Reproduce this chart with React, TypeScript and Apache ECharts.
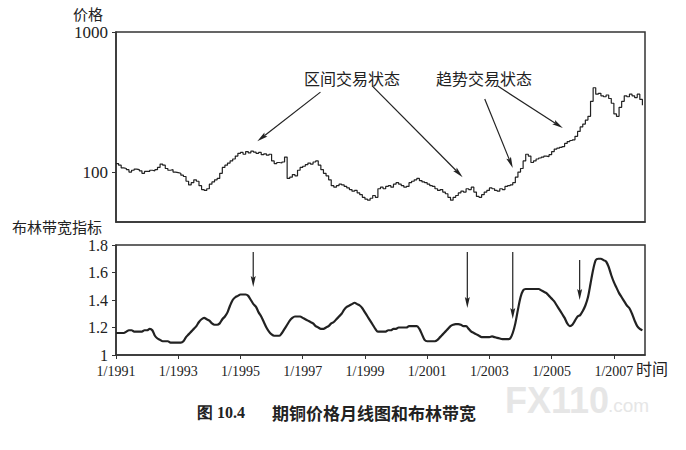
import { useEffect, useRef } from "react";
import * as echarts from "echarts";

const startYear = 1991;

// Monthly copper futures price (cents/lb), Jan 1991 .. Dec 2007
const copperPrice = [
  115, 112, 107, 106, 104, 100, 103, 105, 104, 102, 98, 101, // 1991
  101, 103, 102, 104, 108, 114, 112, 106, 103, 104, 100, 99, // 1992
  98, 95, 93, 86, 81, 84, 88, 86, 80, 75, 74, 76, // 1993
  82, 85, 88, 90, 98, 108, 112, 116, 120, 124, 130, 136, // 1994
  138, 134, 140, 137, 141, 139, 136, 138, 133, 135, 132, 134, // 1995
  120, 115, 117, 116, 118, 128, 90, 92, 96, 94, 103, 108, // 1996
  110, 113, 116, 114, 118, 120, 112, 104, 98, 94, 88, 80, // 1997
  78, 80, 82, 81, 79, 77, 75, 73, 74, 71, 69, 66, // 1998
  64, 63, 65, 68, 66, 76, 78, 76, 79, 80, 78, 82, // 1999
  84, 82, 80, 78, 79, 84, 86, 88, 90, 87, 85, 84, // 2000
  82, 80, 79, 76, 74, 75, 72, 70, 66, 63, 66, 68, // 2001
  71, 73, 72, 76, 75, 78, 72, 67, 66, 69, 72, 74, // 2002
  77, 76, 74, 73, 76, 75, 79, 80, 81, 84, 92, 100, // 2003
  106, 120, 134, 130, 117, 120, 124, 126, 128, 130, 129, 133, // 2004
  140, 146, 148, 150, 152, 160, 165, 168, 170, 180, 195, 210, // 2005
  220, 235, 250, 320, 400, 360, 365, 350, 345, 355, 335, 310, // 2006
  260, 250, 290, 320, 350, 345, 360, 350, 340, 360, 330, 300, // 2007
];

// Monthly Bollinger band width indicator, Jan 1991 .. Dec 2007
const bandWidth = [
  1.16, 1.16, 1.16, 1.16, 1.17, 1.18, 1.18, 1.17, 1.17, 1.17, 1.17, 1.18, // 1991
  1.18, 1.19, 1.18, 1.14, 1.12, 1.11, 1.1, 1.1, 1.1, 1.09, 1.09, 1.09, // 1992
  1.09, 1.09, 1.1, 1.13, 1.15, 1.17, 1.19, 1.21, 1.24, 1.26, 1.27, 1.26, // 1993
  1.25, 1.23, 1.22, 1.22, 1.23, 1.26, 1.28, 1.31, 1.36, 1.4, 1.42, 1.43, // 1994
  1.44, 1.44, 1.44, 1.43, 1.4, 1.37, 1.35, 1.31, 1.28, 1.24, 1.2, 1.17, // 1995
  1.15, 1.14, 1.14, 1.14, 1.16, 1.19, 1.22, 1.25, 1.27, 1.28, 1.28, 1.28, // 1996
  1.27, 1.26, 1.25, 1.24, 1.23, 1.21, 1.2, 1.19, 1.19, 1.2, 1.21, 1.23, // 1997
  1.24, 1.26, 1.28, 1.3, 1.33, 1.35, 1.36, 1.37, 1.38, 1.37, 1.36, 1.34, // 1998
  1.31, 1.28, 1.25, 1.22, 1.19, 1.17, 1.17, 1.17, 1.17, 1.18, 1.18, 1.19, // 1999
  1.19, 1.2, 1.2, 1.2, 1.2, 1.21, 1.21, 1.21, 1.21, 1.19, 1.15, 1.11, // 2000
  1.1, 1.1, 1.1, 1.1, 1.11, 1.13, 1.15, 1.17, 1.19, 1.21, 1.22, 1.225, // 2001
  1.225, 1.22, 1.21, 1.21, 1.19, 1.17, 1.16, 1.15, 1.14, 1.13, 1.13, 1.13, // 2002
  1.13, 1.135, 1.13, 1.125, 1.12, 1.115, 1.115, 1.115, 1.12, 1.16, 1.23, 1.33, // 2003
  1.42, 1.47, 1.48, 1.48, 1.48, 1.48, 1.48, 1.48, 1.47, 1.46, 1.45, 1.43, // 2004
  1.41, 1.39, 1.36, 1.33, 1.3, 1.27, 1.23, 1.21, 1.22, 1.25, 1.28, 1.29, // 2005
  1.32, 1.36, 1.42, 1.52, 1.62, 1.69, 1.7, 1.7, 1.69, 1.68, 1.64, 1.58, // 2006
  1.53, 1.49, 1.45, 1.42, 1.39, 1.36, 1.34, 1.3, 1.25, 1.21, 1.19, 1.18, // 2007
];

const yearTicks = [1991, 1993, 1995, 1997, 1999, 2001, 2003, 2005, 2007];
const priceTicks = [100, 1000];
const priceMin = 44;
const widthTicks = [1, 1.2, 1.4, 1.6, 1.8];

// annotation arrows: [from, to] in [year, price]
const priceArrows = [
  [[1997.57, 372], [1995.54, 166]],
  [[1999.24, 411], [2002.14, 92]],
  [[2002.85, 332], [2003.75, 107]],
  [[2003.27, 411], [2005.36, 206]],
];
// annotation arrows on band width: [from, to] in [year, width]
const widthArrows = [
  [[1995.41, 1.749], [1995.41, 1.495]],
  [[2002.29, 1.749], [2002.29, 1.342]],
  [[2003.75, 1.749], [2003.75, 1.262]],
  [[2005.9, 1.691], [2005.9, 1.4]],
];

const SERIF = "'Liberation Serif', 'DejaVu Serif', serif";
const CJK = "'Noto Sans CJK SC', sans-serif";
const INK = "#222";

export default function App() {
  const ref = useRef<HTMLDivElement>(null);

  useEffect(() => {
    if (!ref.current) return;
    const chart = echarts.init(ref.current, null, { renderer: "svg" });

    const priceData = copperPrice.map((v, i) => [startYear + i / 12, Math.log10(v)]);
    const widthData = bandWidth.map((v, i) => [startYear + i / 12, v]);

    const frame = { show: true, borderColor: "#333", borderWidth: 1.5, backgroundColor: "transparent" };

    chart.setOption({
      animation: false,
      backgroundColor: "#fff",
      grid: [
        { left: 116, top: 32, width: 529, height: 190, containLabel: false, outerBoundsMode: "none", ...frame },
        { left: 116, top: 245, width: 529, height: 110, containLabel: false, outerBoundsMode: "none", ...frame },
      ],
      xAxis: [
        {
          type: "value", gridIndex: 0, min: 1991, max: 2008,
          axisLine: { show: true, lineStyle: { color: "#333", width: 1.5 } },
          axisTick: { show: false }, axisLabel: { show: false }, splitLine: { show: false },
        },
        {
          type: "value", gridIndex: 1, min: 1991, max: 2008,
          axisLine: { show: true, lineStyle: { color: "#333", width: 1.5 } },
          axisTick: { show: true, customValues: yearTicks, length: 4, lineStyle: { color: "#333" } },
          axisLabel: {
            customValues: yearTicks,
            formatter: (v: number) => "1/" + Math.round(v),
            color: INK, fontFamily: SERIF, fontSize: 14, margin: 9,
          },
          splitLine: { show: false },
        },
      ],
      yAxis: [
        {
          type: "value", gridIndex: 0, min: Math.log10(priceMin), max: 3,
          axisLine: { show: true, lineStyle: { color: "#333", width: 1.5 } },
          axisTick: { show: true, customValues: priceTicks.map((p) => Math.log10(p)), length: 4, lineStyle: { color: "#333" } },
          axisLabel: {
            customValues: priceTicks.map((p) => Math.log10(p)),
            formatter: (v: number) => String(Math.round(Math.pow(10, v))),
            color: INK, fontFamily: SERIF, fontSize: 17, margin: 8,
          },
          splitLine: { show: false },
        },
        {
          type: "value", gridIndex: 1, min: 1, max: 1.8, interval: 0.2,
          axisLine: { show: true, lineStyle: { color: "#333", width: 1.5 } },
          axisTick: { show: true, customValues: widthTicks, length: 4, lineStyle: { color: "#333" } },
          axisLabel: {
            customValues: widthTicks,
            formatter: (v: number) => String(Math.round(v * 10) / 10),
            color: INK, fontFamily: SERIF, fontSize: 16, margin: 8,
          },
          splitLine: { show: false },
        },
      ],
      series: [
        {
          type: "line", xAxisIndex: 0, yAxisIndex: 0, data: priceData, step: "end",
          showSymbol: false, silent: true, lineStyle: { color: INK, width: 1.2 },
        },
        {
          type: "line", xAxisIndex: 1, yAxisIndex: 1, data: widthData, smooth: 0.3,
          showSymbol: false, silent: true, lineStyle: { color: INK, width: 2.2 },
        },
      ],
    });

    const arrowEls: any[] = [];
    const addArrow = (p1: number[], p2: number[], headL: number, headW: number) => {
      const dx = p2[0] - p1[0];
      const dy = p2[1] - p1[1];
      const len = Math.sqrt(dx * dx + dy * dy) || 1;
      const ux = dx / len, uy = dy / len;
      const nx = -uy, ny = ux;
      const bx = p2[0] - ux * headL, by = p2[1] - uy * headL;
      arrowEls.push({
        type: "line", silent: true,
        shape: { x1: p1[0], y1: p1[1], x2: bx + ux * 2, y2: by + uy * 2 },
        style: { stroke: INK, lineWidth: 1.2 },
      });
      arrowEls.push({
        type: "polygon", silent: true,
        shape: {
          points: [
            [p2[0], p2[1]],
            [bx + nx * headW / 2, by + ny * headW / 2],
            [bx + ux * 2, by + uy * 2],
            [bx - nx * headW / 2, by - ny * headW / 2],
          ],
        },
        style: { fill: INK },
      });
    };
    priceArrows.forEach(([a, b]) => {
      const p1 = chart.convertToPixel({ seriesIndex: 0 }, [a[0], Math.log10(a[1])]) as number[];
      const p2 = chart.convertToPixel({ seriesIndex: 0 }, [b[0], Math.log10(b[1])]) as number[];
      addArrow(p1, p2, 11, 5);
    });
    widthArrows.forEach(([a, b]) => {
      const p1 = chart.convertToPixel({ seriesIndex: 1 }, a) as number[];
      const p2 = chart.convertToPixel({ seriesIndex: 1 }, b) as number[];
      addArrow(p1, p2, 11, 5);
    });

    const txt = (text: string, x: number, y: number, extra: any = {}) => ({
      type: "text", silent: true, x, y,
      style: { text, fill: INK, font: `15px ${CJK}`, textAlign: "left", textVerticalAlign: "middle", verticalAlign: "middle", ...extra },
    });

    chart.setOption({
      graphic: [
        txt("价格", 73, 13, { font: `15px ${CJK}` }),
        txt("布林带宽指标", 12, 226, { font: `15px ${CJK}` }),
        txt("时间", 636, 368, { font: `16px ${CJK}` }),
        txt("区间交易状态", 352, 78, { font: `16px ${CJK}`, textAlign: "center", align: "center" }),
        txt("趋势交易状态", 484, 78, { font: `16px ${CJK}`, textAlign: "center", align: "center" }),
        txt("图 10.4", 197, 412, { font: `bold 16px ${SERIF}` }),
        txt("期铜价格月线图和布林带宽", 272, 412, { font: `bold 17px ${CJK}` }),
        txt("FX110", 505, 400, { font: `bold 36px 'Liberation Sans', Arial, sans-serif`, fill: "#e6e6e6" }),
        txt(".com", 608, 405, { font: `19px 'Liberation Sans', Arial, sans-serif`, fill: "#e6e6e6" }),
        ...arrowEls,
      ],
    });

    return () => chart.dispose();
  }, []);

  return (
    <div
      ref={ref}
      style={{ position: "fixed", left: 0, top: 0, width: 686, height: 450, background: "#fff" }}
    />
  );
}
